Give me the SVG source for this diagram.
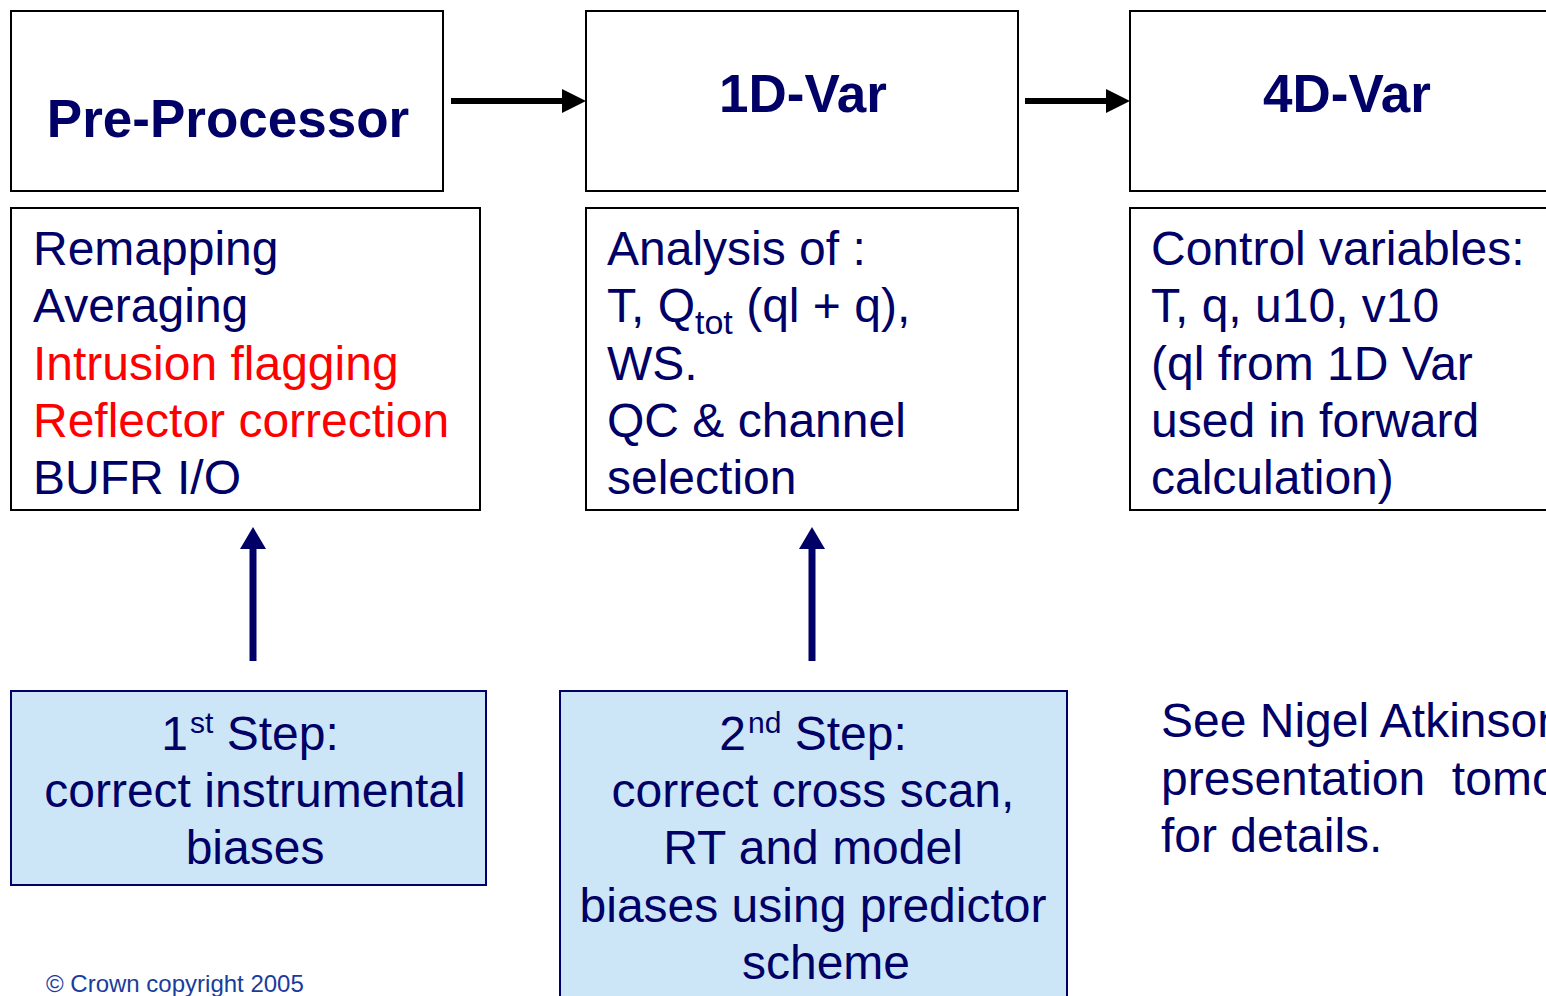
<svg xmlns="http://www.w3.org/2000/svg" width="1546" height="996" viewBox="0 0 1546 996">
<style>
.box{fill:#fff;stroke:#000;stroke-width:2}
.blue{fill:#cce6f8;stroke:#000066;stroke-width:2}
.title{font-family:"Liberation Sans",Arial,sans-serif;font-weight:bold;font-size:53px;fill:#000066;text-anchor:middle}
.t{font-family:"Liberation Sans",Arial,sans-serif;font-size:48px;fill:#000066}
.red{fill:#ff0000}
.c{text-anchor:middle}
.copy{font-family:"Liberation Sans",Arial,sans-serif;font-size:24px;fill:#1a3c9c}
</style>
<defs>
<marker id="ab" markerUnits="userSpaceOnUse" markerWidth="24" markerHeight="24" refX="0" refY="12" orient="auto">
<path d="M0,0 L24,12 L0,24 Z" fill="#000"/>
</marker>
<marker id="an" markerUnits="userSpaceOnUse" markerWidth="22" markerHeight="26" refX="0" refY="13" orient="auto">
<path d="M0,0 L22,13 L0,26 Z" fill="#000066"/>
</marker>
</defs>
<rect width="1546" height="996" fill="#fff"/>
<g id="preprocessor">
<rect class="box" x="11" y="11" width="432" height="180"/>
<text class="title" x="228" y="137">Pre-Processor</text>
</g>
<g id="onedvar">
<rect class="box" x="586" y="11" width="432" height="180"/>
<text class="title" x="803" y="112">1D-Var</text>
</g>
<g id="fourdvar">
<rect class="box" x="1130" y="11" width="430" height="180"/>
<text class="title" x="1347" y="112">4D-Var</text>
</g>
<g id="pre-details">
<rect class="box" x="11" y="208" width="469" height="302"/>
<text class="t" x="33" y="265">Remapping</text>
<text class="t" x="33" y="322">Averaging</text>
<text class="t red" x="33" y="380">Intrusion flagging</text>
<text class="t red" x="33" y="437">Reflector correction</text>
<text class="t" x="33" y="494">BUFR I/O</text>
</g>
<g id="onedvar-details">
<rect class="box" x="586" y="208" width="432" height="302"/>
<text class="t" x="607" y="265">Analysis of :</text>
<text class="t" x="607" y="322">T, Q<tspan font-size="34" dy="12">tot</tspan><tspan dy="-12"> (ql + q),</tspan></text>
<text class="t" x="607" y="380">WS.</text>
<text class="t" x="607" y="437">QC &amp; channel</text>
<text class="t" x="607" y="494">selection</text>
</g>
<g id="fourdvar-details">
<rect class="box" x="1130" y="208" width="430" height="302"/>
<text class="t" x="1151" y="265">Control variables:</text>
<text class="t" x="1151" y="322">T, q, u10, v10</text>
<text class="t" x="1151" y="380">(ql from 1D Var</text>
<text class="t" x="1151" y="437">used in forward</text>
<text class="t" x="1151" y="494">calculation)</text>
</g>
<g id="step1">
<rect class="blue" x="11" y="691" width="475" height="194"/>
<text class="t c" x="250" y="750">1<tspan font-size="30" dy="-17" dx="2">st</tspan><tspan dy="17"> Step:</tspan></text>
<text class="t c" x="255" y="807">correct instrumental</text>
<text class="t c" x="255" y="864">biases</text>
</g>
<g id="step2">
<rect class="blue" x="560" y="691" width="507" height="320"/>
<text class="t c" x="813" y="750">2<tspan font-size="30" dy="-17" dx="2">nd</tspan><tspan dy="17"> Step:</tspan></text>
<text class="t c" x="813" y="807">correct cross scan,</text>
<text class="t c" x="813" y="864">RT and model</text>
<text class="t c" x="813" y="922">biases using predictor</text>
<text class="t c" x="826" y="979">scheme</text>
</g>
<g id="note">
<text class="t" x="1161" y="737">See Nigel Atkinson</text>
<text class="t" x="1161" y="795" xml:space="preserve">presentation  tomorrow</text>
<text class="t" x="1161" y="852">for details.</text>
</g>
<g id="copyright">
<text class="copy" x="46" y="992">© Crown copyright 2005</text>
</g>
<g id="connectors">
<line x1="451" y1="101" x2="562" y2="101" stroke="#000" stroke-width="6" marker-end="url(#ab)"/>
<line x1="1025" y1="101" x2="1106" y2="101" stroke="#000" stroke-width="6" marker-end="url(#ab)"/>
<line x1="253" y1="661" x2="253" y2="549" stroke="#000066" stroke-width="7" marker-end="url(#an)"/>
<line x1="812" y1="661" x2="812" y2="549" stroke="#000066" stroke-width="7" marker-end="url(#an)"/>
</g>
</svg>
